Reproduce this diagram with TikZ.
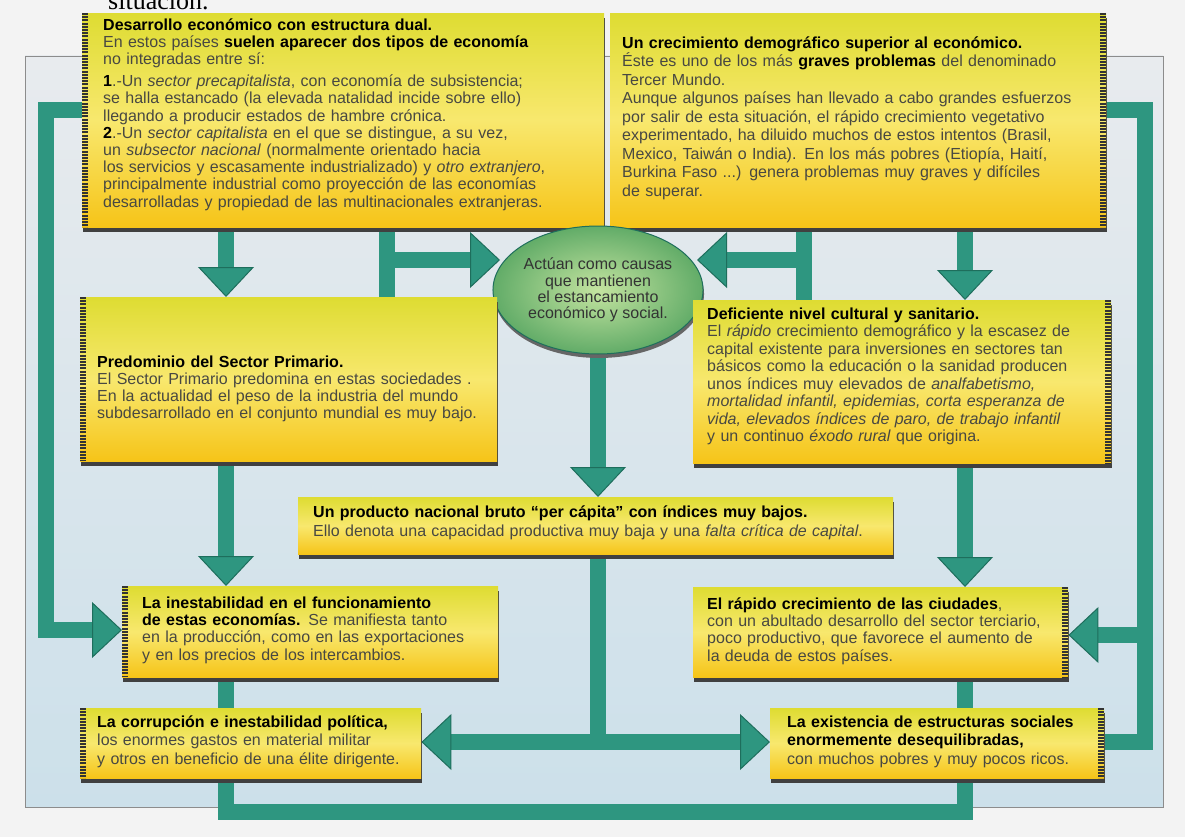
\documentclass[tikz,border=0pt]{standalone}
\usepackage{fontspec}
\setmainfont{Liberation Sans}
\newfontfamily\librofont{Liberation Serif}
\usepackage{xcolor}
\usetikzlibrary{arrows.meta,shapes.geometric,shadows}

\definecolor{fondopag}{RGB}{243,243,243}
\definecolor{paneltop}{RGB}{232,235,238}
\definecolor{panelbot}{RGB}{204,224,234}
\definecolor{verde}{RGB}{46,150,128}
\definecolor{verdeosc}{RGB}{30,110,92}
\definecolor{cajatop}{RGB}{222,220,50}
\definecolor{cajamid}{RGB}{248,232,110}
\definecolor{cajabot}{RGB}{246,196,24}
\definecolor{textocaja}{RGB}{72,72,66}
\definecolor{elipin}{RGB}{196,228,160}
\definecolor{elipout}{RGB}{98,172,104}

\pgfdeclarelayer{fondo}
\pgfdeclarelayer{flechas}
\pgfsetlayers{fondo,flechas,main}

\tikzset{
	caja/.style={anchor=north west, align=left, inner ysep=0pt, text=textocaja,
		top color=cajatop, bottom color=cajabot, middle color=cajamid,
		font=\fontsize{16}{17.2}\selectfont,
		drop shadow={shadow xshift=1pt, shadow yshift=-5pt, fill=black!75, opacity=1}},
	causa/.style={ellipse, minimum width=206pt, minimum height=128pt, inner sep=0pt,
		align=center, draw=verdeosc, line width=1pt, inner color=elipin, outer color=elipout,
		text=black!80, font=\fontsize{16}{16.2}\selectfont,
		drop shadow={shadow xshift=1pt, shadow yshift=-4pt, fill=black!60, opacity=1}},
	borde/.style={line width=6pt, draw=black!80, dash pattern=on 2pt off 1.2pt},
	barra/.style={line width=16pt, draw=verde, line join=miter},
	flecha/.style={barra, -{Triangle[width=56pt, length=30pt, line width=1pt, color=verdeosc, fill=verde]}},
}
\newcommand{\titulo}[1]{\textcolor{black}{\textbf{#1}}}

\begin{document}
\begin{tikzpicture}[x=1pt,y=-1pt]
	\useasboundingbox (0,0) rectangle (1185,837);
	\begin{pgfonlayer}{fondo}
		\fill[fondopag] (0,0) rectangle (1185,837);
		\draw[black!45, top color=paneltop, bottom color=panelbot] (25,56) rectangle (1163,807);
	\end{pgfonlayer}

	\node[font=\librofont\fontsize{26}{26}\selectfont, anchor=base west, inner sep=0pt] (situacion) at (108,10) {situación.};

	% cajas de arriba
	\node[caja, inner xsep=21pt, text width=480pt, text height=17pt, text depth=197pt] (desarrollo) at (82,13) {\titulo{Desarrollo económico con estructura dual.}\\
		En estos países \titulo{suelen aparecer dos tipos de economía}\\
		no integradas entre sí:\\[5pt]
		\titulo{1}.-Un \textit{sector precapitalista}, con economía de subsistencia;\\
		se halla estancado (la elevada natalidad incide sobre ello)\\
		llegando a producir estados de hambre crónica.\\
		\titulo{2}.-Un \textit{sector capitalista} en el que se distingue, a su vez,\\
		un \textit{subsector nacional} (normalmente orientado hacia\\
		los servicios y escasamente industrializado) y \textit{otro extranjero},\\
		principalmente industrial como proyección de las economías\\
		desarrolladas y propiedad de las multinacionales extranjeras.};
	\node[caja, font=\fontsize{16}{18.5}\selectfont, inner xsep=12pt, text width=472pt, text height=35pt, text depth=179pt] (demografia) at (610,13) {\titulo{Un crecimiento demográfico superior al económico.}\\
		Éste es uno de los más \titulo{graves problemas} del denominado\\
		Tercer Mundo.\\
		Aunque algunos países han llevado a cabo grandes esfuerzos\\
		por salir de esta situación, el rápido crecimiento vegetativo\\
		experimentado, ha diluido muchos de estos intentos (Brasil,\\
		Mexico, Taiwán o India). En los más pobres (Etiopía, Haití,\\
		Burkina Faso ...) genera problemas muy graves y difíciles\\
		de superar.};

	\node[causa] (causas) at (598,290) {Actúan como causas\\que mantienen\\el estancamiento\\económico y social.};

	% cajas del medio
	\node[caja, font=\fontsize{16}{17}\selectfont, inner xsep=17pt, text width=383pt, text height=70pt, text depth=94pt] (primario) at (80,297) {\titulo{Predominio del Sector Primario.}\\
		El Sector Primario predomina en estas sociedades .\\
		En la actualidad el peso de la industria del mundo\\
		subdesarrollado en el conjunto mundial es muy bajo.};
	\node[caja, font=\fontsize{16}{17.5}\selectfont, inner xsep=14pt, text width=390pt, text height=19pt, text depth=144pt] (cultural) at (693,300) {\titulo{Deficiente nivel cultural y sanitario.}\\
		El \textit{rápido} crecimiento demográfico y la escasez de\\
		capital existente para inversiones en sectores tan\\
		básicos como la educación o la sanidad producen\\
		unos índices muy elevados de \textit{analfabetismo,}\\
		\textit{mortalidad infantil, epidemias, corta esperanza de}\\
		\textit{vida, elevados índices de paro, de trabajo infantil}\\
		y un continuo \textit{éxodo rural} que origina.};
	\node[caja, font=\fontsize{16}{19}\selectfont, inner xsep=15pt, text width=565pt, text height=20pt, text depth=37pt] (pnb) at (298,497) {\titulo{Un producto nacional bruto ``per cápita'' con índices muy bajos.}\\
		Ello denota una capacidad productiva muy baja y una \textit{falta crítica de capital}.};

	% cajas de abajo
	\node[caja, font=\fontsize{16}{17.3}\selectfont, inner xsep=20pt, text width=336pt, text height=22pt, text depth=69pt] (inestabilidad) at (122,586) {\titulo{La inestabilidad en el funcionamiento}\\
		\titulo{de estas economías.} Se manifiesta tanto\\
		en la producción, como en las exportaciones\\
		y en los precios de los intercambios.};
	\node[caja, font=\fontsize{16}{17.3}\selectfont, inner xsep=14pt, text width=347pt, text height=22pt, text depth=68pt] (ciudades) at (693,587) {\titulo{El rápido crecimiento de las ciudades},\\
		con un abultado desarrollo del sector terciario,\\
		poco productivo, que favorece el aumento de\\
		la deuda de estos países.};
	\node[caja, font=\fontsize{16}{18.7}\selectfont, inner xsep=17pt, text width=307pt, text height=19pt, text depth=51pt] (corrupcion) at (80,708) {\titulo{La corrupción e inestabilidad política,}\\
		los enormes gastos en material militar\\
		y otros en beneficio de una élite dirigente.};
	\node[caja, font=\fontsize{16}{18.7}\selectfont, inner xsep=17pt, text width=300pt, text height=19pt, text depth=51pt] (estructuras) at (770,708) {\titulo{La existencia de estructuras sociales}\\
		\titulo{enormemente desequilibradas,}\\
		con muchos pobres y muy pocos ricos.};

	% bordes oscuros
	\draw[borde] ([xshift=3pt]desarrollo.north west) -- ([xshift=3pt]desarrollo.south west);
	\draw[borde] ([xshift=3pt]primario.north west) -- ([xshift=3pt]primario.south west);
	\draw[borde] ([xshift=3pt]inestabilidad.north west) -- ([xshift=3pt]inestabilidad.south west);
	\draw[borde] ([xshift=3pt]corrupcion.north west) -- ([xshift=3pt]corrupcion.south west);
	\draw[borde] ([xshift=-3pt]demografia.north east) -- ([xshift=-3pt]demografia.south east);
	\draw[borde] ([xshift=-3pt]cultural.north east) -- ([xshift=-3pt]cultural.south east);
	\draw[borde] ([xshift=-3pt]ciudades.north east) -- ([xshift=-3pt]ciudades.south east);
	\draw[borde] ([xshift=-3pt]estructuras.north east) -- ([xshift=-3pt]estructuras.south east);

	% puntos de las flechas
	\coordinate (izqA) at (46,110);
	\coordinate (izqF) at (46,630);
	\coordinate (derB) at (1145,110);
	\coordinate (derG) at (1145,635);
	\coordinate (derI) at (1145,742);
	\coordinate (tizq) at (387,260);
	\coordinate (tder) at (804,260);
	\coordinate (puntaizq) at (500,260);
	\coordinate (puntader) at (697,260);
	\coordinate (cpnb) at (598,742);
	\coordinate (bizq) at (226,812);
	\coordinate (bder) at (965,812);

	\begin{pgfonlayer}{flechas}
		\draw[flecha] (desarrollo.west |- izqA) -- (izqA) -- (izqF) -- (inestabilidad.west |- izqF);
		\draw[barra] (demografia.east |- derB) -- (derB) -- (derI) -- (estructuras.east |- derI);
		\draw[flecha] (derG) -- (ciudades.east |- derG);
		\draw[flecha] (desarrollo.south -| bizq) -- (primario.north -| bizq);
		\draw[barra] (desarrollo.south -| tizq) -- (primario.north -| tizq);
		\draw[flecha] (tizq) -- (puntaizq);
		\draw[barra] (demografia.south -| tder) -- (cultural.north -| tder);
		\draw[flecha] (tder) -- (puntader);
		\draw[flecha] (demografia.south -| bder) -- (cultural.north -| bder);
		\draw[flecha] (causas.south -| cpnb) -- (pnb.north -| cpnb);
		\draw[flecha] (primario.south -| bizq) -- (inestabilidad.north -| bizq);
		\draw[flecha] (cultural.south -| bder) -- (ciudades.north -| bder);
		\draw[barra] (inestabilidad.south -| bizq) -- (corrupcion.north -| bizq);
		\draw[barra] (ciudades.south -| bder) -- (estructuras.north -| bder);
		\draw[barra] (pnb.south -| cpnb) -- (cpnb);
		\draw[flecha] (cpnb) -- (corrupcion.east |- cpnb);
		\draw[flecha] (cpnb) -- (estructuras.west |- cpnb);
		\draw[barra] (corrupcion.south -| bizq) -- (bizq) -- (bder) -- (estructuras.south -| bder);
	\end{pgfonlayer}
\end{tikzpicture}
\end{document}
